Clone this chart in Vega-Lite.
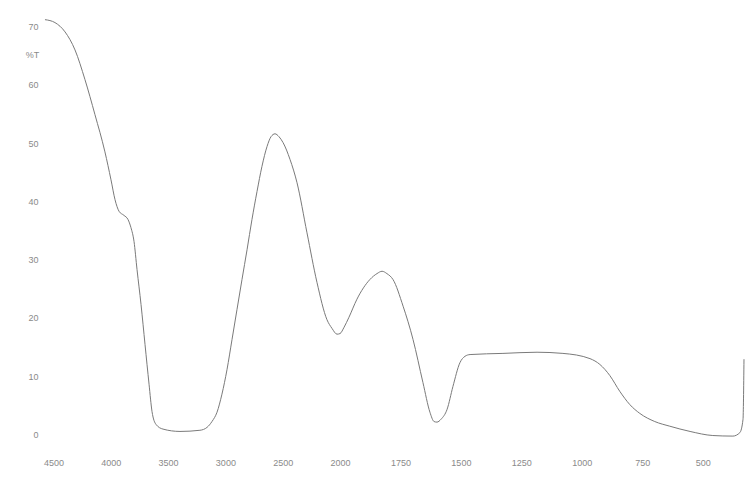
{
  "$schema": "https://vega.github.io/schema/vega-lite/v6.json",
  "autosize": {"type": "none"},
  "padding": {"left": 42, "top": 15, "right": 5, "bottom": 22},
  "width": 709,
  "height": 431,
  "background": "white",
  "config": {"view": {"stroke": null}},
  "data": {"values": [
    {"wn": 4574, "t": 71.2}, {"wn": 4487, "t": 70.7}, {"wn": 4399, "t": 69.1}, {"wn": 4312, "t": 66.0},
    {"wn": 4225, "t": 60.9}, {"wn": 4138, "t": 54.9}, {"wn": 4051, "t": 48.5}, {"wn": 3998, "t": 43.7},
    {"wn": 3963, "t": 40.3}, {"wn": 3928, "t": 38.3}, {"wn": 3885, "t": 37.6}, {"wn": 3850, "t": 36.9},
    {"wn": 3824, "t": 35.5}, {"wn": 3797, "t": 33.1}, {"wn": 3771, "t": 28.3}, {"wn": 3736, "t": 22.3},
    {"wn": 3701, "t": 15.4}, {"wn": 3666, "t": 8.6}, {"wn": 3640, "t": 3.9}, {"wn": 3605, "t": 1.7},
    {"wn": 3544, "t": 0.9}, {"wn": 3396, "t": 0.5}, {"wn": 3222, "t": 0.7}, {"wn": 3160, "t": 1.2},
    {"wn": 3117, "t": 2.2}, {"wn": 3073, "t": 3.8}, {"wn": 3030, "t": 6.9}, {"wn": 2986, "t": 11.1},
    {"wn": 2942, "t": 16.3}, {"wn": 2899, "t": 21.4}, {"wn": 2855, "t": 26.6}, {"wn": 2811, "t": 31.7},
    {"wn": 2768, "t": 36.9}, {"wn": 2724, "t": 41.7}, {"wn": 2681, "t": 46.0}, {"wn": 2637, "t": 49.4},
    {"wn": 2602, "t": 51.1}, {"wn": 2567, "t": 51.6}, {"wn": 2532, "t": 51.1}, {"wn": 2497, "t": 50.1},
    {"wn": 2436, "t": 47.2}, {"wn": 2375, "t": 43.2}, {"wn": 2288, "t": 34.6}, {"wn": 2201, "t": 26.1},
    {"wn": 2114, "t": 19.7}, {"wn": 2070, "t": 18.2}, {"wn": 2026, "t": 17.2}, {"wn": 2000, "t": 17.3},
    {"wn": 1983, "t": 18.4}, {"wn": 1963, "t": 20.1}, {"wn": 1930, "t": 23.2}, {"wn": 1876, "t": 26.6},
    {"wn": 1847, "t": 27.6}, {"wn": 1826, "t": 28.0}, {"wn": 1806, "t": 27.6}, {"wn": 1781, "t": 26.6},
    {"wn": 1739, "t": 22.0}, {"wn": 1698, "t": 16.3}, {"wn": 1657, "t": 8.9}, {"wn": 1628, "t": 3.8},
    {"wn": 1611, "t": 2.2}, {"wn": 1599, "t": 2.1}, {"wn": 1582, "t": 2.6}, {"wn": 1557, "t": 4.3},
    {"wn": 1533, "t": 8.2}, {"wn": 1504, "t": 12.3}, {"wn": 1483, "t": 13.4}, {"wn": 1462, "t": 13.7},
    {"wn": 1326, "t": 13.9}, {"wn": 1185, "t": 14.1}, {"wn": 1078, "t": 13.9}, {"wn": 966, "t": 13.0},
    {"wn": 925, "t": 12.0}, {"wn": 884, "t": 10.1}, {"wn": 843, "t": 7.4}, {"wn": 801, "t": 5.1},
    {"wn": 760, "t": 3.6}, {"wn": 698, "t": 2.2}, {"wn": 636, "t": 1.4}, {"wn": 552, "t": 0.5},
    {"wn": 458, "t": -0.2}, {"wn": 375, "t": -0.3}, {"wn": 346, "t": 0.3}, {"wn": 333, "t": 2.6},
    {"wn": 329, "t": 12.9}
  ]},
  "mark": {"type": "line", "color": "#7a7a7a", "strokeWidth": 1, "interpolate": "monotone"},
  "encoding": {
    "x": {
      "field": "wn", "type": "quantitative",
      "scale": {"domain": [4600, 2000, 300], "range": [0, 298, 709], "nice": false, "zero": false},
      "axis": {
        "values": [4500, 4000, 3500, 3000, 2500, 2000, 1750, 1500, 1250, 1000, 750, 500],
        "format": "d",
        "title": null, "domain": false, "ticks": false, "grid": false,
        "labelPadding": 12, "labelFont": "Liberation Sans", "labelFontSize": 9, "labelColor": "#8a8a8a"
      }
    },
    "y": {
      "field": "t", "type": "quantitative",
      "scale": {"domain": [-2, 72], "nice": false, "zero": false},
      "axis": {
        "values": [0, 10, 20, 30, 40, 50, 60, 70],
        "format": "d",
        "domain": false, "ticks": false, "grid": false,
        "labelPadding": 4, "labelFont": "Liberation Sans", "labelFontSize": 9, "labelColor": "#8a8a8a",
        "title": "%T", "titleAngle": 0, "titleX": -10, "titleY": 39, "titleAlign": "center", "titleBaseline": "middle",
        "titleFont": "Liberation Sans", "titleFontSize": 9, "titleFontWeight": "normal", "titleColor": "#8a8a8a"
      }
    }
  }
}
